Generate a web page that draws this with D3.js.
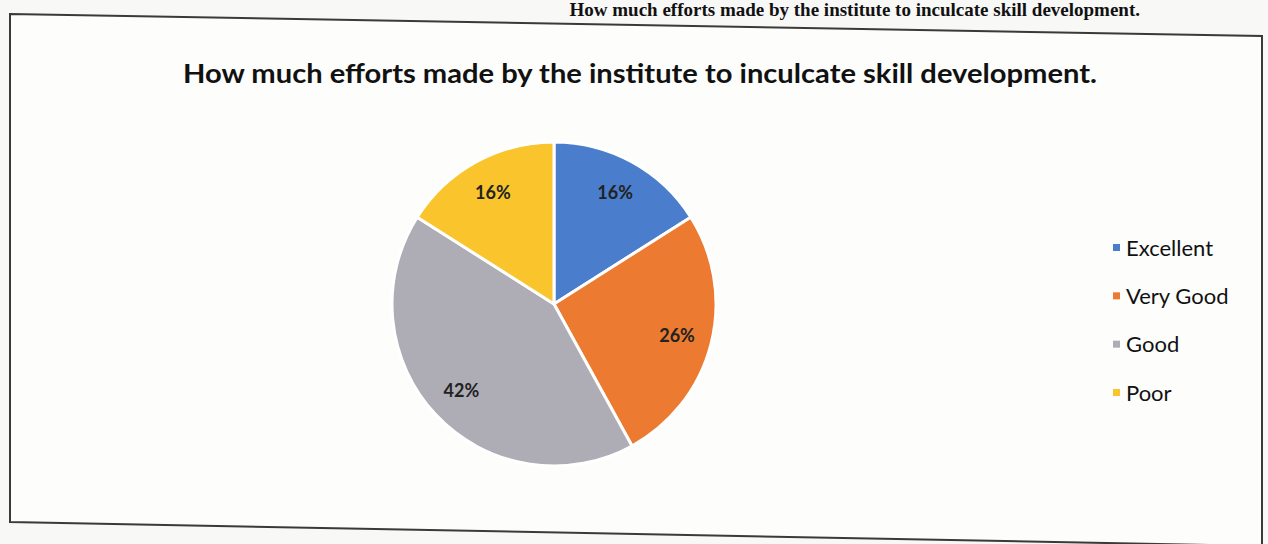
<!DOCTYPE html>
<html><head><meta charset="utf-8">
<script src="https://cdn.jsdelivr.net/npm/d3@7"></script>
<style>html,body{margin:0;padding:0;background:#f8f8f7;}svg{display:block;}</style>
</head><body>
<svg id="c" width="1268" height="544"></svg>
<script>
const categories = ["Excellent", "Very Good", "Good", "Poor"];
const values = [16, 26, 42, 16];
const labels = ["16%", "26%", "42%", "16%"];
const colors = ["#4a7dcc", "#ec7a30", "#aeacb4", "#f9c42c"];
const title = "How much efforts made by the institute to inculcate skill development.";

const svg = d3.select("#c");
// page border (photo of printed box)
svg.append("path")
  .attr("d", "M10,14 L1262,36 L1262,546 L10,522 Z")
  .attr("fill", "#fdfdfc").attr("stroke", "#3a3a3a").attr("stroke-width", 2);

// heading of the page above the box
svg.append("text").attr("x", 1140).attr("y", 16).attr("text-anchor", "end")
  .attr("font-family", "Liberation Serif").attr("font-weight", "bold").attr("font-size", 19)
  .attr("fill", "#111").text(title);

svg.append("text").attr("x", 640).attr("y", 83).attr("text-anchor", "middle")
  .attr("font-family", "Lato, 'Open Sans', sans-serif").attr("font-weight", "bold")
  .attr("font-size", 26).attr("fill", "#111")
  .attr("textLength", 914).attr("lengthAdjust", "spacingAndGlyphs")
  .text(title);

const cx = 554, cy = 304, R = 162;
const pie = d3.pie().sort(null).value(d => d)(values);
const arc = d3.arc().innerRadius(0).outerRadius(R);
const labelArc = d3.arc().innerRadius(127).outerRadius(127);
const g = svg.append("g").attr("transform", `translate(${cx},${cy})`);
g.selectAll("path.s").data(pie).join("path").attr("class", "s")
  .attr("d", arc).attr("fill", (d, i) => colors[i])
  .attr("stroke", "#fff").attr("stroke-width", 3).attr("stroke-linejoin", "round");
g.selectAll("text.l").data(pie).join("text").attr("class", "l")
  .attr("transform", d => `translate(${labelArc.centroid(d)})`)
  .attr("text-anchor", "middle").attr("dy", "0.35em")
  .attr("font-family", "Lato, sans-serif").attr("font-weight", "bold").attr("font-size", 18)
  .attr("fill", "#222").text((d, i) => labels[i]);

const legY = d3.scalePoint().domain(categories).range([248, 393]);
const leg = svg.append("g");
const item = leg.selectAll("g").data(categories).join("g")
  .attr("transform", d => `translate(1113,${legY(d)})`);
item.append("rect").attr("x", 0).attr("y", -4).attr("width", 7).attr("height", 7)
  .attr("fill", (d, i) => colors[i]);
item.append("text").attr("x", 13).attr("dy", "0.35em")
  .attr("font-family", "Lato, 'Open Sans', sans-serif").attr("font-size", 22)
  .attr("fill", "#111").text(d => d);
</script>
</body></html>
